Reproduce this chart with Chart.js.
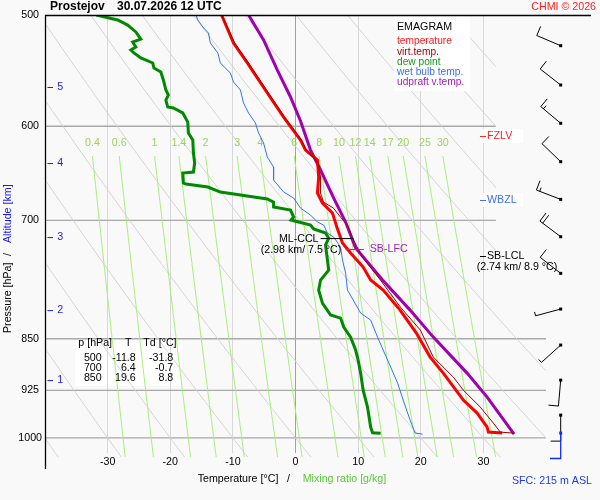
<!DOCTYPE html>
<html><head><meta charset="utf-8">
<script src="https://cdn.jsdelivr.net/npm/chart.js@4.4.0/dist/chart.umd.min.js"></script>
<style>html,body{margin:0;padding:0;background:#f9f9f9;}</style>
</head><body>
<canvas id="c" width="600" height="500" style="width:600px;height:500px;display:block"></canvas>
<script>
// ---------- DATA ----------
const tempP = [500,523.5,540.9,568.2,591.0,613.7,623.9,634.2,652.1,669.4,680.5,691.7,707.8,726.6,738.6,755.8,772.0,784.8,811.0,842.1,875.9,899.2,939.9,960.1,982.4,990.5,992.1];
const tempT = [-11.8,-9.9,-7.7,-4.5,-1.9,0.8,1.6,3.5,3.7,3.5,4.3,5.9,6.6,7.5,8.8,10.8,12.0,14.0,16.7,19.3,21.5,23.6,26.8,29.0,30.6,30.8,33.0];

const vtP = [500,523.5,540.9,568.2,591.0,613.7,623.9,637.3,652.1,669.4,679.4,686.1,696.3,705.5,723.0,743.5,772.0,807.0,838.0,875.9,905.1,924.6,950.7,976.0,990.5,992.1];
const vtT = [-11.8,-9.7,-7.5,-4.3,-1.75,0.96,1.75,3.67,3.99,3.99,4.47,6.06,7.18,8.29,9.25,10.69,13.56,16.75,19.94,22.0,25.2,26.8,29.5,31.6,32.7,34.8];

const dewP = [500,504.1,508.3,514.1,520.1,522.6,526.9,529.5,532.1,536.5,540.9,545.4,549.0,556.2,565.4,570.1,574.8,581.4,582.3,587.1,595.9,606.7,613.7,626.9,637.3,646.8,647.8,658.5,659.6,662.9,668.3,671.6,676.0,679.4,685.0,688.3,696.3,699.7,702.0,705.5,710.1,714.8,720.7,729.0,747.1,759.5,772.0,784.8,801.7,817.6,821.7,833.9,847.7,865.9,880.2,899.2,924.6,950.7,982.4,991.5,992.5];
const dewT = [-31.8,-28.4,-26.8,-25.5,-24.7,-26.0,-25.5,-26.3,-25.8,-24.7,-22.8,-22.6,-21.5,-21.1,-20.7,-20.3,-20.7,-20.4,-19.5,-18.0,-17.2,-17.1,-16.4,-16.3,-16.1,-16.3,-18.0,-17.9,-17.5,-14.0,-12.0,-8.8,-4.5,-3.5,-3.5,-0.8,-0.3,-0.7,0.5,2.4,2.9,4.8,5.3,4.8,5.1,5.3,4.0,3.7,4.3,5.6,7.2,7.7,8.8,9.6,10.0,10.4,10.8,11.5,12.0,12.3,13.6];

const wbP = [500,504.1,509.9,515.0,523.5,532.1,540.9,549.9,558.0,565.4,577.6,587.1,596.8,606.7,616.7,631.1,641.5,655.3,668.3,674.9,686.1,694.0,702.0,705.5,714.8,719.5,731.4,747.1,763.2,784.8,814.9,824.4,847.7,865.9,890.4,914.0,939.9,971.2,992.1,993.8];
const wbT = [-15.9,-15.6,-14.8,-13.9,-13.6,-12.4,-12.0,-10.4,-9.9,-8.8,-8.3,-7.5,-6.4,-5.9,-5.1,-4.5,-3.5,-3.5,-1.9,-0.3,0.8,2.4,3.5,4.5,5.1,6.1,7.2,7.5,8.0,8.3,10.4,12.0,13.1,14.0,15.2,16.3,17.2,18.3,19.1,20.3];

const parcelP = [500,520.9,547.2,571.9,594.9,623.9,644.6,674.9,702.0,732.6,772.0,811.0,847.7,899.2,935.3,993.8];
const parcelT = [-7.5,-5.1,-2.9,-0.8,0.8,2.4,4.0,6.1,8.0,9.6,13.9,18.3,22.0,27.4,30.6,34.9];

const pressureTicks = [500,600,700,850,925,1000];
const tempTicks = [-30,-20,-10,0,10,20,30];
const mixRatios = [0.4,0.6,1,1.4,2,3,4,6,8,10,12,14,17,20,25,30];
const thetas = [-40,-30,-20,-10,0,10,20,30,40,50,60,70,80,90,100,110];

const altKm = [1,2,3,4,5];
const altP = [909.6,811.0,719.5,637.3,562.6];

const barbP = [963.3,909.6,858.8,809.6,763.6,719.1,676.4,635.9,597.1,560.8,525.8];
const barbDir = [180,185,228,255,308,307,291,314,310,308,293];
const barbSpd = [10,10,5,5,10,20,15,10,15,10,10];

const tableP = [500,700,850];
const tableT = [-11.8,6.4,19.6];
const tableTd = [-31.8,-0.7,8.8];

const fzlvP = 609.7, wbzlP = 677.1, sbLclP = 742.2, sbLfcP = 733.8, mlCclP = 720.7;
const sbLfcT = [8.0,10.9], mlCclT = [4.0,9.25];
const sfcP = 992.1;

// ---------- HELPERS ----------
const FAM = '"Liberation Sans", Arial, Helvetica, sans-serif';
const F = s => s + 'px ' + FAM;
const toXY = (P,T) => P.map((p,i)=>({x:T[i], y:p}));
function tdFromMix(w,p){ const e=w*p/(622+w); const l=Math.log(e/6.112); return 243.5*l/(17.67-l); }
function txt(c,s,x,y,color,align,font){ c.fillStyle=color; c.font=font||F(10.67); c.textAlign=align||'left'; c.textBaseline='middle'; c.fillText(s,x,y); }

function drawBarb(c,x,y,dir,spd){
  const r=dir*Math.PI/180, ux=Math.sin(r), uy=-Math.cos(r);
  const L=26, fx=-uy, fy=ux;
  const ex=x+L*ux, ey=y+L*uy;
  c.strokeStyle='#000'; c.lineWidth=1;
  c.beginPath(); c.moveTo(x,y); c.lineTo(ex,ey);
  let s=spd, pos=0;
  while(s>=10){ const bx=ex-pos*ux, by=ey-pos*uy; c.moveTo(bx,by); c.lineTo(bx+10*fx,by+10*fy); pos+=3.5; s-=10; }
  if(s>=5){ const bx=ex-pos*ux, by=ey-pos*uy; c.moveTo(bx,by); c.lineTo(bx+4*fx,by+4*fy); }
  c.stroke();
  c.fillStyle='#000'; c.fillRect(x-1.5,y-1.5,3,3);
}

const emagramPlugin = {
  id:'emagram',
  beforeDraw(chart){
    const c=chart.ctx; c.save();
    c.fillStyle='#f9f9f9'; c.fillRect(0,0,chart.width,chart.height);
    c.fillStyle='#ffffff'; c.fillRect(75,336,107,50);
    c.restore();
  },
  beforeDatasetsDraw(chart){
    const c=chart.ctx, xs=chart.scales.x, ys=chart.scales.y, a=chart.chartArea;
    const px=v=>xs.getPixelForValue(v), py=v=>ys.getPixelForValue(v);
    const splitP=811, yB=py(splitP), yEnd=py(1032);
    c.save();
    // horizontal isobars
    c.strokeStyle='#a9a9a9'; c.lineWidth=1.3;
    pressureTicks.forEach(p=>{ if(p===500) return; const y=py(p); const xr = p<splitP ? px(32) : px(40);
      c.beginPath(); c.moveTo(a.left,y); c.lineTo(xr,y); c.stroke(); });
    // dry adiabats, clipped
    c.save();
    c.beginPath(); c.rect(a.left,a.top,px(32)-a.left,yB-a.top); c.rect(a.left,yB,px(40)-a.left,yEnd-yB); c.clip();
    c.strokeStyle='#d3d3d3'; c.lineWidth=1;
    thetas.forEach(th=>{ c.beginPath(); let first=true;
      for(let p=500;p<=1032;p+=4){ const T=(th+273.15)*Math.pow(p/1000,0.286)-273.15; const x=px(T), y=py(p);
        if(first){c.moveTo(x,y); first=false;} else c.lineTo(x,y); }
      c.stroke(); });
    c.restore();
    // mixing ratio lines
    c.strokeStyle='#a6f07a'; c.lineWidth=1;
    mixRatios.forEach(w=>{ c.beginPath();
      for(let p=630;p<=1032;p+=6){ const x=px(tdFromMix(w,p)), y=py(p); if(p===630) c.moveTo(x,y); else c.lineTo(x,y); }
      c.stroke();
      txt(c,String(w),px(tdFromMix(w,630)),py(617),'#9ad45a','center');
    });
    // legend box
    c.fillStyle='#ffffff'; c.fillRect(394,15,76,76);
    c.restore();
  },
  afterDatasetsDraw(chart){
    const c=chart.ctx, xs=chart.scales.x, ys=chart.scales.y, a=chart.chartArea;
    const px=v=>xs.getPixelForValue(v), py=v=>ys.getPixelForValue(v);
    c.save();
    // legend
    txt(c,'EMAGRAM',397,27,'#000','left',F(10.67));
    const leg=[['temperature','#ff1a1a'],['virt.temp.','#a00000'],['dew point','#1a961a'],['wet bulb temp.','#3b6ff0'],['udpraft v.temp.','#a020b8']];
    leg.forEach((l,i)=>txt(c,l[0],397,41.5+10.2*i,l[1],'left',F(10.2)));
    // level labels
    c.lineWidth=1;
    const lab=(p,s,col,box)=>{ const y=py(p); if(box){c.fillStyle='#ffffff'; c.fillRect(480,y-7,43,14);}
      c.strokeStyle=col; c.beginPath(); c.moveTo(480,y+0.5); c.lineTo(486,y+0.5); c.stroke(); txt(c,s,487,y,col,'left'); };
    lab(fzlvP,'FZLV','#ff2020',true);
    lab(wbzlP,'WBZL','#3b6ff0',true);
    lab(sbLclP,'SB-LCL','#000',false);
    txt(c,'(2.74 km/ 8.9 °C)',517,py(sbLclP)+10.7,'#000','center');
    // SB-LFC
    let y=py(sbLfcP);
    c.strokeStyle='#a020b8'; c.beginPath(); c.moveTo(px(sbLfcT[0]),y+0.5); c.lineTo(px(sbLfcT[1]),y+0.5); c.stroke();
    txt(c,'SB-LFC',px(sbLfcT[1])+6,y,'#a020b8','left');
    // ML-CCL
    y=py(mlCclP);
    c.strokeStyle='#000'; c.beginPath(); c.moveTo(px(mlCclT[0]),y+0.5); c.lineTo(px(mlCclT[1]),y+0.5); c.stroke();
    txt(c,'ML-CCL',px(mlCclT[0])-2,y+1,'#000','right');
    txt(c,'(2.98 km/ 7.5 °C)',301,y+11.5,'#000','center');
    // table
    txt(c,'p [hPa]',78.3,343.3,'#000','left');
    txt(c,'T',125,343.3,'#000','left');
    txt(c,'Td [°C]',143.3,343.3,'#000','left');
    tableP.forEach((p,i)=>{ const yy=358.5+10*i;
      txt(c,String(p),101.7,yy,'#000','right');
      txt(c,tableT[i].toFixed(1),135.7,yy,'#000','right');
      txt(c,tableTd[i].toFixed(1),173.3,yy,'#000','right'); });
    // altitude labels
    c.strokeStyle='#1a1aee';
    altKm.forEach((k,i)=>{ const yy=py(altP[i]); c.beginPath(); c.moveTo(47.5,yy+0.5); c.lineTo(53,yy+0.5); c.stroke(); txt(c,String(k),57.3,yy,'#1a1aee','left'); });
    // wind barbs
    const bx=560.7;
    barbP.forEach((p,i)=>drawBarb(c,bx,py(p),barbDir[i],barbSpd[i]));
    // surface marker
    const ys0=py(sfcP);
    c.strokeStyle='#1030ee'; c.lineWidth=1.3;
    c.beginPath(); c.moveTo(bx,ys0); c.lineTo(bx,458.5); c.lineTo(550,458.5); c.stroke();
    c.fillStyle='#1030ee'; c.fillRect(bx-1.5,ys0-1.5,3,3);
    // frame lines
    c.strokeStyle='#000'; c.lineWidth=1.3;
    c.beginPath(); c.moveTo(45.5,15); c.lineTo(45.5,469); c.stroke();
    c.beginPath(); c.moveTo(45,15.5); c.lineTo(591,15.5); c.stroke();
    // titles
    txt(c,'Prostejov',50,7,'#000','left','bold '+F(12));
    txt(c,'30.07.2026 12 UTC',117,7,'#000','left','bold '+F(12));
    txt(c,'CHMI © 2026',596,7,'#ff2020','right',F(10.67));
    txt(c,'Temperature [°C]',197.7,479,'#000','left');
    txt(c,'/',287,479,'#000','left');
    txt(c,'Mixing ratio [g/kg]',302.7,479,'#5cc63c','left');
    txt(c,'SFC: 215 m ASL',512,481,'#1f3fe0','left');
    c.save(); c.translate(8,333); c.rotate(-Math.PI/2);
    txt(c,'Pressure [hPa]',0,0,'#000','left');
    txt(c,'/',77,0,'#000','left');
    txt(c,'Altitude [km]',90,0,'#1a1aee','left');
    c.restore();
    c.restore();
  }
};

const lineDS = (label,P,T,color,w,order)=>({label,data:toXY(P,T),borderColor:color,backgroundColor:color,borderWidth:w,showLine:true,pointRadius:0,fill:false,tension:0,order});

new Chart(document.getElementById('c').getContext('2d'),{
  type:'scatter',
  data:{datasets:[
    lineDS('virt.temp.',vtP,vtT,'#a00000',1,1),
    lineDS('temperature',tempP,tempT,'#ff0000',3,2),
    lineDS('udpraft v.temp.',parcelP,parcelT,'#a000b0',3,3),
    lineDS('wet bulb temp.',wbP,wbT,'#2f76f0',1,4),
    lineDS('dew point',dewP,dewT,'#008a00',3,5)
  ]},
  options:{
    responsive:false, animation:false, devicePixelRatio:1,
    layout:{padding:{top:15,right:54,left:0,bottom:0}},
    plugins:{legend:{display:false},tooltip:{enabled:false},title:{display:false}},
    scales:{
      x:{type:'linear',min:-40,max:40,
        afterBuildTicks:s=>{s.ticks=tempTicks.map(v=>({value:v}));},
        afterFit:s=>{s.height=47;},
        grid:{color:ctx=>ctx.tick&&ctx.tick.value===0?'#a0a0a0':'#d8d8d8',lineWidth:1,drawTicks:false},
        border:{display:false},
        ticks:{color:'#000',font:{family:FAM,size:10.67},padding:3,maxRotation:0,autoSkip:false,callback:v=>String(v)}},
      y:{type:'logarithmic',reverse:true,min:500,max:1025,
        afterBuildTicks:s=>{s.ticks=pressureTicks.map(v=>({value:v}));},
        afterFit:s=>{s.width=45;},
        grid:{display:false,drawTicks:false},
        border:{display:false},
        ticks:{color:'#000',font:{family:FAM,size:10.67},padding:3,crossAlign:'center',autoSkip:false,callback:v=>String(v)}}
    }
  },
  plugins:[emagramPlugin]
});
</script>
</body></html>
